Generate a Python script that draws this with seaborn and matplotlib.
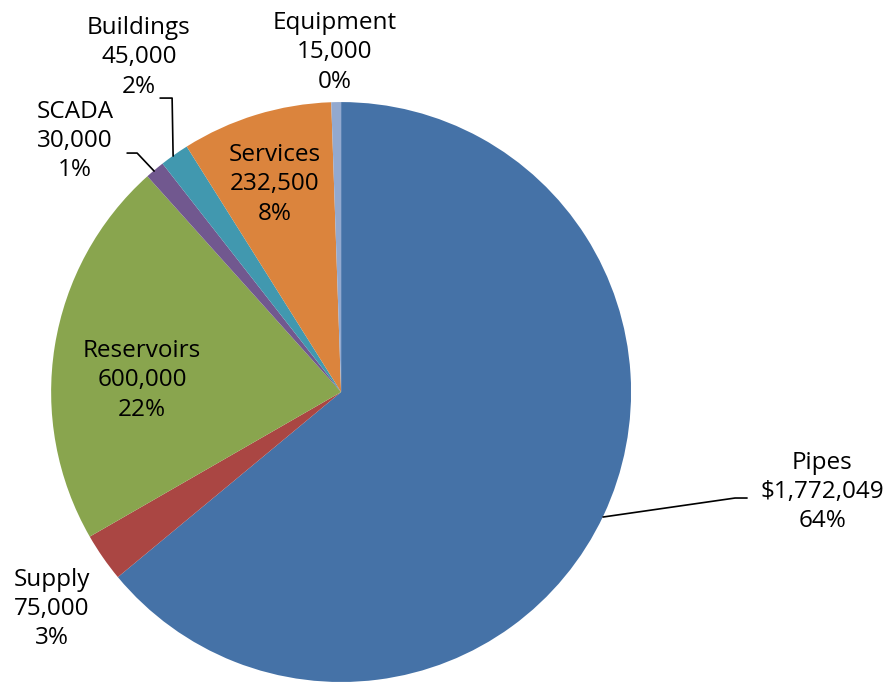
import matplotlib
matplotlib.use("Agg")
import matplotlib.pyplot as plt
import seaborn as sns

# DATA
categories = ["Pipes", "Supply", "Reservoirs", "SCADA", "Buildings", "Services", "Equipment"]
values = [1772049, 75000, 600000, 30000, 45000, 232500, 15000]
value_labels = ["$1,772,049", "75,000", "600,000", "30,000", "45,000", "232,500", "15,000"]
pct_labels = ["64%", "3%", "22%", "1%", "2%", "8%", "0%"]
colors = ["#4572A7", "#AA4643", "#89A54E", "#71588F", "#4198AF", "#DB843D", "#93A9CF"]

sns.set_theme(style="white")
plt.rcParams["font.family"] = ["Open Sans", "DejaVu Sans"]

fig = plt.figure(figsize=(8.93, 6.82), dpi=100)
ax = fig.add_axes([0, 0, 1, 1])

# PIE, clockwise from 12 o'clock
wedges, _ = ax.pie(values, colors=colors, startangle=90, counterclock=False,
                   radius=1.0, center=(0, 0), wedgeprops={"linewidth": 0})

ax.set_xlim(-1.176, 1.903)
ax.set_ylim(-1.0, 1.352)
ax.set_aspect("equal")
ax.axis("off")

# LABEL POSITIONS (data coords, centre of middle line)
label_pos = {
    "Pipes": (1.659, -0.345),
    "Supply": (-0.997, -0.748),
    "Reservoirs": (-0.686, 0.041),
    "SCADA": (-0.917, 0.866),
    "Buildings": (-0.697, 1.155),
    "Services": (-0.228, 0.717),
    "Equipment": (-0.021, 1.172),
}

for cat, val, pct in zip(categories, value_labels, pct_labels):
    x, y = label_pos[cat]
    ax.text(x, y, f"{cat}\n{val}\n{pct}", ha="center", va="center",
            fontsize=17.5, linespacing=1.3, color="black")


def px(x, y):
    # pixel (from top-left) to data coords
    return (x - 341) / 290, (392 - y) / 290


# LEADER LINES
leaders = [
    [(603, 517), (735, 498), (747, 498)],   # Pipes
    [(154, 171), (137, 153), (127, 153)],   # SCADA
    [(173, 156), (172, 98), (160, 98)],     # Buildings
]
for pts in leaders:
    xs, ys = zip(*[px(a, b) for a, b in pts])
    ax.plot(xs, ys, color="black", linewidth=1.2)

plt.savefig("out.png", dpi=100)
